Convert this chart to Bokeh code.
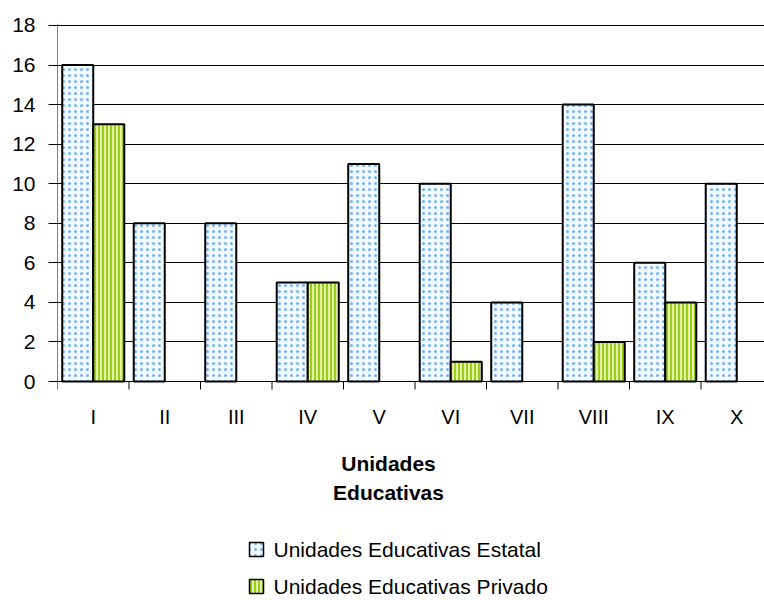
from bokeh.plotting import figure
from bokeh.models import ColumnDataSource, FixedTicker, Range1d
from bokeh.core.properties import value
from bokeh.embed import file_html
from bokeh.resources import INLINE

categories = ["I", "II", "III", "IV", "V", "VI", "VII", "VIII", "IX", "X"]
estatal = [16, 8, 8, 5, 11, 10, 4, 14, 6, 10]
privado = [13, 0, 0, 5, 0, 1, 0, 2, 4, 0]
y_ticks = [0, 2, 4, 6, 8, 10, 12, 14, 16, 18]
axis_title = ["Unidades", "Educativas"]
series_names = ["Unidades Educativas Estatal", "Unidades Educativas Privado"]

FONT = "Liberation Sans"
PXY = 19.78          # pixels per y unit
PXX = 71.5           # pixels per category
off = 0.217
bw = 0.434

EST_STYLE = dict(fill_color="#f4f9ff", hatch_pattern="dot", hatch_color="#6fb2ff",
                 hatch_scale=6, hatch_weight=7)
PRI_STYLE = dict(fill_color="#e4f0a8", hatch_pattern="vertical_line", hatch_color="#9ccc1c",
                 hatch_scale=4, hatch_weight=2)

n = len(categories)
centers = [i + 0.5 for i in range(n)]
src_e = ColumnDataSource(dict(x=[c - off for c, v in zip(centers, estatal) if v > 0],
                              top=[v for v in estatal if v > 0]))
src_p = ColumnDataSource(dict(x=[c + off for c, v in zip(centers, privado) if v > 0],
                              top=[v for v in privado if v > 0]))

x_end = (764 - 57) / PXX
y_bottom = -(600 - 381) / PXY
p = figure(width=764, height=600, output_backend="svg", toolbar_location=None,
           x_range=Range1d(0, x_end), y_range=Range1d(y_bottom, 18.1),
           x_axis_location=None,
           min_border_left=57, min_border_right=0, min_border_top=23, min_border_bottom=0)
p.outline_line_color = None
p.background_fill_color = "white"
p.border_fill_color = "white"

p.vbar(x="x", top="top", bottom=0, width=bw, source=src_e,
       line_color="black", line_width=2, **EST_STYLE)
p.vbar(x="x", top="top", bottom=0, width=bw, source=src_p,
       line_color="black", line_width=2, **PRI_STYLE)

# y axis (ticks and labels), axis line drawn only over the value range
ya = p.yaxis[0]
ya.ticker = FixedTicker(ticks=y_ticks, minor_ticks=[])
ya.major_tick_out = 9
ya.major_tick_in = 0
ya.major_tick_line_color = "black"
ya.axis_line_color = None
ya.major_label_standoff = 13
ya.major_label_text_font = FONT
ya.major_label_text_font_size = "21px"
ya.major_label_text_color = "black"

p.xgrid.visible = False
p.ygrid.grid_line_color = "black"
p.ygrid.grid_line_width = 1
p.ygrid.ticker = FixedTicker(ticks=y_ticks)

# value axis line and category axis (line, separating ticks, labels)
p.segment(x0=[0], y0=[0], x1=[0], y1=[18.1], line_color="black", line_width=1)
p.segment(x0=[0], y0=[0], x1=[x_end], y1=[0], line_color="black", line_width=1)
bounds = list(range(n + 1))
p.segment(x0=bounds, y0=[0] * len(bounds), x1=bounds, y1=[-8 / PXY] * len(bounds),
          line_color="black", line_width=1)
p.text(x=centers, y=[-35 / PXY] * n, text=categories, text_align="center",
       text_baseline="middle", text_font=value(FONT), text_font_size="20px",
       text_color="black")

# axis title
title_x = (388 - 57) / PXX
p.text(x=[title_x] * len(axis_title),
       y=[-(463 - 381) / PXY, -(492 - 381) / PXY], text=axis_title,
       text_align="center", text_baseline="middle", text_font=value(FONT),
       text_font_size="21px", text_font_style="bold", text_color="black")

# legend
leg_x = (256 - 57) / PXX
leg_tx = (273 - 57) / PXX
leg_y = [-(549 - 381) / PXY, -(586 - 381) / PXY]
for yy, style in zip(leg_y, [EST_STYLE, PRI_STYLE]):
    p.scatter(x=[leg_x], y=[yy], marker="square", size=14, line_color="black",
              line_width=1.5, **style)
p.text(x=[leg_tx] * 2, y=leg_y, text=series_names, text_align="left",
       text_baseline="middle", text_font=value(FONT), text_font_size="21px",
       text_color="black")

open("out.html", "w").write(file_html(p, INLINE))
